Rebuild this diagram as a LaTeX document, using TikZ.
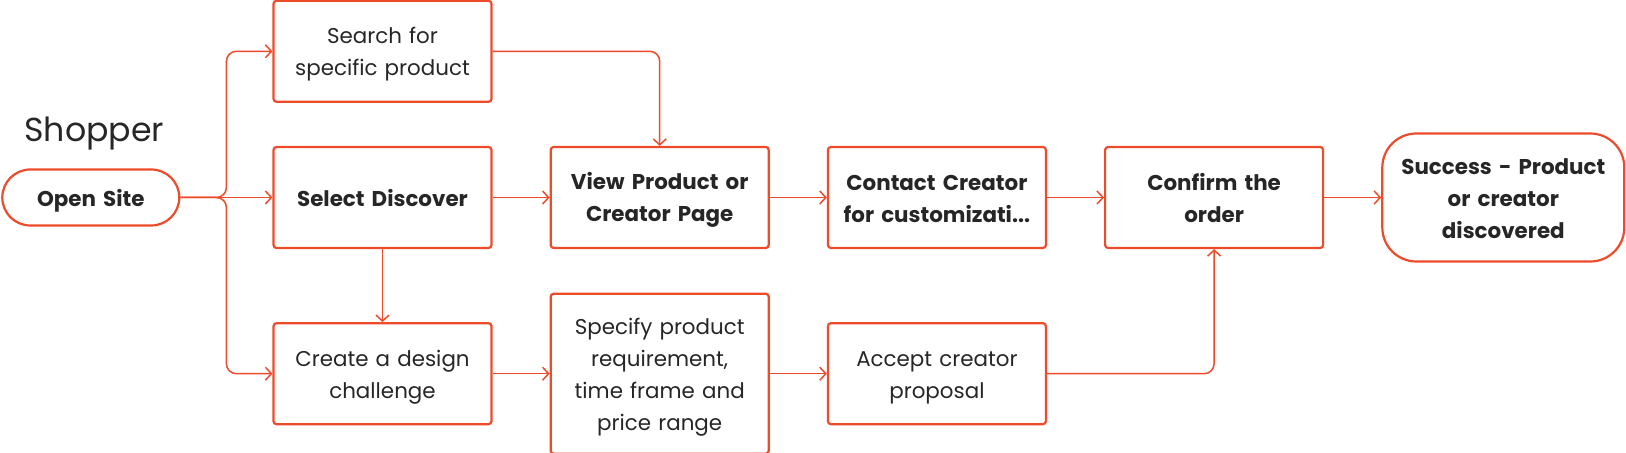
\documentclass[tikz,border=0pt]{standalone}
\usepackage{fontspec}
\setmainfont{Poppins}
\usetikzlibrary{positioning,arrows.meta,calc}
\definecolor{flowred}{RGB}{238,75,43}
\definecolor{inkdark}{RGB}{38,38,38}
\newcommand{\boxstrut}{\rule[-2.2pt]{0pt}{13.6pt}}

\begin{document}
\begin{tikzpicture}[x=0.5pt, y=-0.5pt, node distance = 28.5pt,
  >={Straight Barb[length=3pt,width=6.5pt]},
  stepbox/.style = {rectangle, draw=flowred, line width=1.1pt, rounded corners=1.5pt,
    text=inkdark, font=\fontsize{10.7}{16}\selectfont, align=center, text width=105pt,
    minimum width=109pt, minimum height=50.5pt, inner sep=0pt,
    execute at begin node=\boxstrut, execute at end node=\boxstrut},
  boldbox/.style = {stepbox, font=\fontsize{10.7}{16}\selectfont\bfseries},
  pill/.style = {boldbox, rounded corners=14pt},
  link/.style = {draw=flowred, line width=0.75pt, ->}]
  \useasboundingbox (0,0) rectangle (1626,453);

  \node (SD) [boldbox] at (382.5,197.5) {Select Discover};
  \node (SF) [stepbox, above = 21.5pt of SD] {Search for\\specific product};
  \node (CD) [stepbox, below = 36.5pt of SD] {Create a design\\challenge};
  \node (VP) [boldbox, right = of SD] {View Product or\\Creator Page};
  \node (SP) [stepbox, minimum height=80pt, right = of CD] {Specify product\\requirement,\\time frame and\\price range};
  \node (CC) [boldbox, right = of VP] {Contact Creator\\for customizati...};
  \node (AC) [stepbox, right = of SP] {Accept creator\\proposal};
  \node (CO) [boldbox, right = of CC] {Confirm the\\order};
  \node (SU) [pill, minimum width=121pt, text width=117pt, minimum height=64pt, rounded corners=17pt, right = of CO] {Success - Product\\or creator\\discovered};
  \node (OS) [pill, minimum width=88.5pt, text width=85pt, minimum height=28pt, left = 46pt of SD] {Open Site};
  \node (SH) [text=inkdark, font=\fontsize{16.6}{19}\selectfont, anchor=base west, inner sep=0pt] at (24,142) {Shopper};

  \coordinate (fork) at ($(OS.east)!0.5!(SD.west)$);

  \draw [link] (OS) -- (SD);
  \draw [link, rounded corners=5pt] (OS.east) -| (fork |- SF.west) -- (SF.west);
  \draw [link, rounded corners=5pt] (OS.east) -| (fork |- CD.west) -- (CD.west);
  \draw [link, rounded corners=5pt] (SF.east) -| (VP.north);
  \draw [link] (SD) -- (CD);
  \draw [link] (SD) -- (VP);
  \draw [link] (VP) -- (CC);
  \draw [link] (CC) -- (CO);
  \draw [link] (CO) -- (SU);
  \draw [link] (CD) -- (SP);
  \draw [link] (SP) -- (AC);
  \draw [link, rounded corners=5pt] (AC.east) -| (CO.south);

\end{tikzpicture}
\end{document}
